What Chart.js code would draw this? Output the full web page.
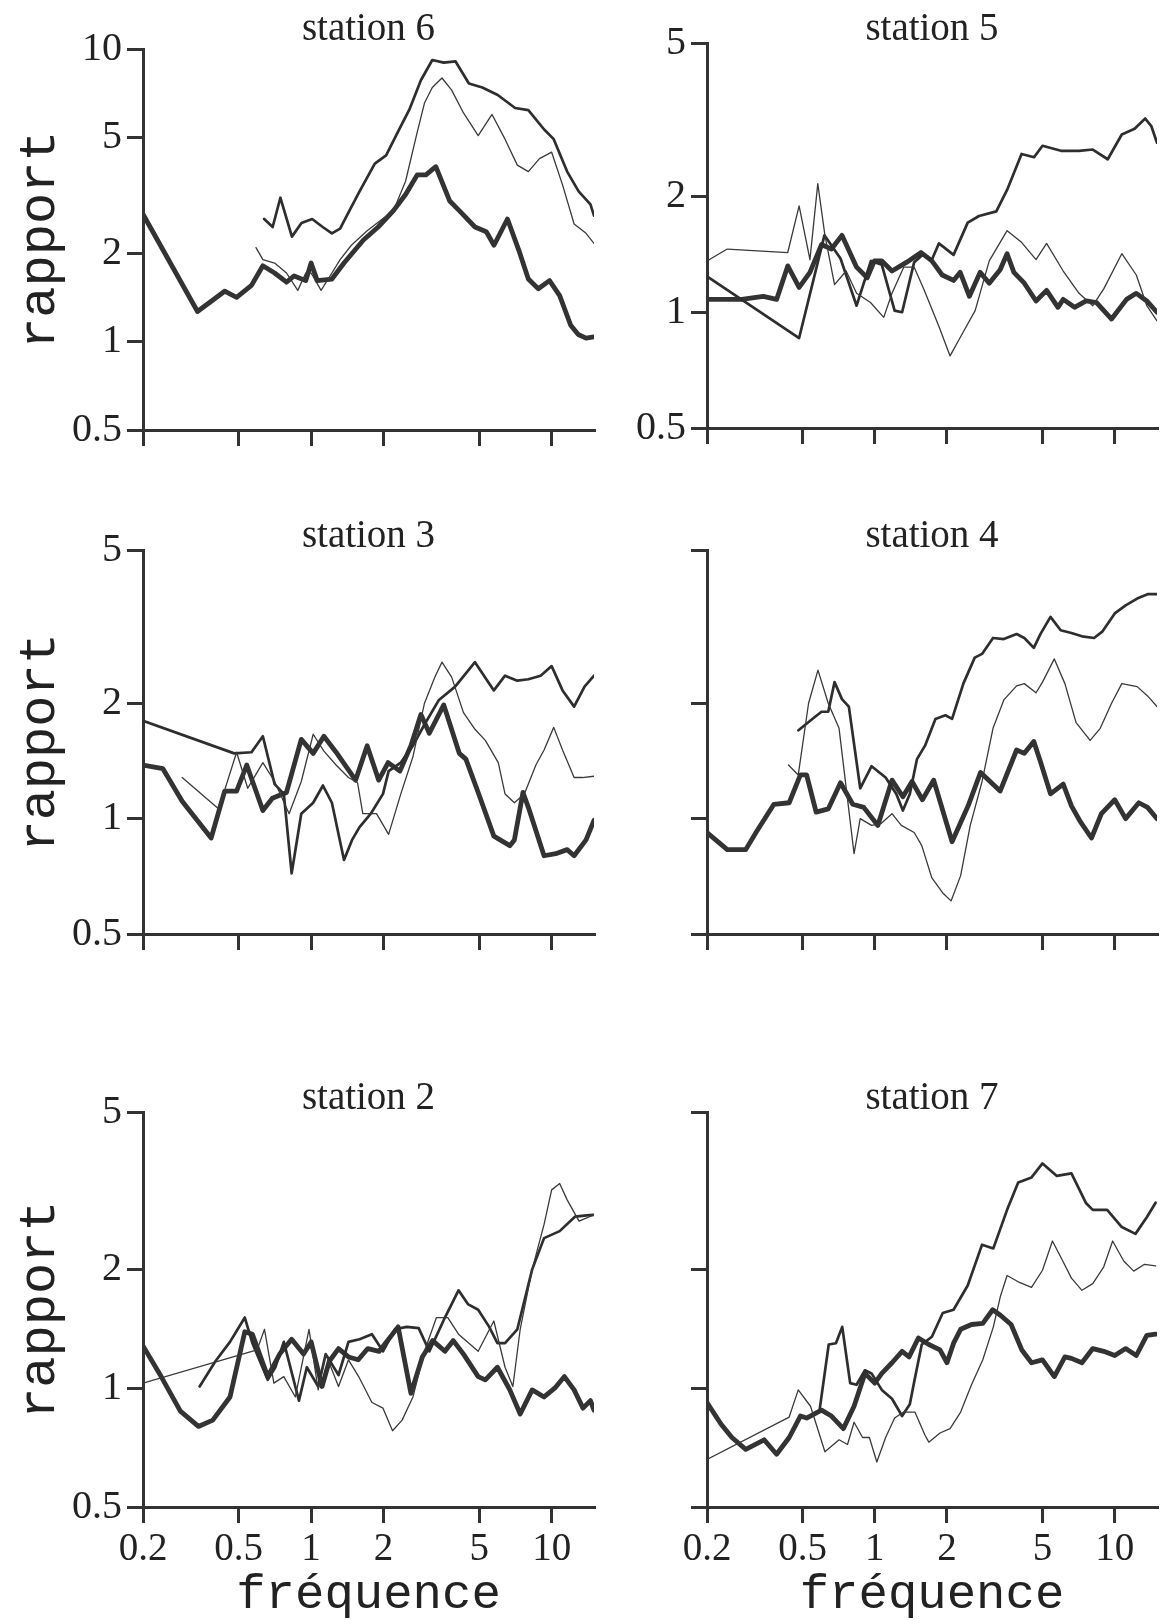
<!DOCTYPE html>
<html><head><meta charset="utf-8">
<script src="https://cdn.jsdelivr.net/npm/chart.js@4.4.0/dist/chart.umd.min.js"></script>
<style>
html,body{margin:0;padding:0;background:#fff;overflow:hidden;width:1160px;height:1620px;}
canvas{position:absolute;display:block;}
</style></head><body>
<canvas id="c1"></canvas><canvas id="c2"></canvas>
<canvas id="c3"></canvas><canvas id="c4"></canvas>
<canvas id="c5"></canvas><canvas id="c6"></canvas>
<script>
// ---------- data: [fréquence, rapport] ----------
const xTicks = [0.2, 0.5, 1, 2, 5, 10];
const yTicks6 = [0.5, 1, 2, 5, 10];
const yTicks = [0.5, 1, 2, 5];
const titles = ['station 6', 'station 5', 'station 3', 'station 4', 'station 2', 'station 7'];

const s6Thick = [[0.2,2.73],[0.337,1.27],[0.437,1.49],[0.49,1.42],[0.565,1.56],[0.63,1.82],[0.705,1.72],[0.79,1.60],[0.85,1.68],[0.95,1.62],[1.0,1.86],[1.06,1.62],[1.22,1.64],[1.37,1.86],[1.65,2.23],[1.9,2.47],[2.2,2.81],[2.47,3.19],[2.76,3.72],[3.0,3.72],[3.3,3.97],[3.77,3.03],[4.13,2.81],[4.8,2.47],[5.35,2.38],[5.76,2.14],[6.55,2.63],[7.3,2.06],[8.0,1.64],[8.8,1.52],[9.8,1.62],[10.8,1.44],[12,1.14],[12.9,1.06],[13.9,1.03],[15,1.04]];
const s6Med = [[0.638,2.63],[0.692,2.47],[0.745,3.11],[0.832,2.29],[0.912,2.55],[1.01,2.63],[1.117,2.47],[1.22,2.35],[1.32,2.44],[1.42,2.74],[1.59,3.27],[1.84,4.07],[2.05,4.34],[2.29,5.2],[2.56,6.22],[2.86,7.84],[3.19,9.19],[3.56,9.0],[3.98,9.1],[4.53,7.64],[5.15,7.4],[5.97,6.98],[7.05,6.3],[8.0,6.2],[9.29,5.33],[10.2,4.93],[11.6,3.82],[12.95,3.27],[14.5,2.95],[15,2.7]];
const s6Thin = [[0.59,2.1],[0.63,1.91],[0.705,1.86],[0.79,1.72],[0.88,1.5],[0.95,1.72],[1.0,1.72],[1.1,1.5],[1.22,1.72],[1.32,1.91],[1.47,2.14],[1.71,2.4],[1.99,2.64],[2.2,2.81],[2.47,3.54],[2.76,5.2],[2.96,6.55],[3.19,7.4],[3.5,7.98],[3.84,7.25],[4.3,6.06],[4.95,5.07],[5.65,5.99],[6.4,4.93],[7.2,4.02],[8.0,3.82],[8.9,4.23],[10,4.45],[11.1,3.44],[12.4,2.53],[13.9,2.35],[15,2.17]];

const s5Thick = [[0.2,1.08],[0.279,1.08],[0.343,1.1],[0.39,1.08],[0.434,1.32],[0.484,1.16],[0.537,1.27],[0.6,1.5],[0.66,1.46],[0.73,1.585],[0.84,1.31],[0.93,1.23],[0.997,1.36],[1.07,1.36],[1.18,1.28],[1.36,1.35],[1.56,1.43],[1.73,1.36],[1.91,1.25],[2.13,1.21],[2.27,1.27],[2.48,1.1],[2.75,1.27],[3.0,1.19],[3.33,1.29],[3.56,1.42],[3.8,1.27],[4.2,1.19],[4.7,1.07],[5.2,1.14],[5.8,1.03],[6.1,1.08],[6.8,1.03],[7.6,1.07],[8.4,1.06],[9.7,0.96],[11.2,1.08],[12.3,1.12],[13.6,1.07],[15,1.0]];
const s5Med = [[0.2,1.24],[0.484,0.857],[0.617,1.585],[0.72,1.38],[0.84,1.04],[0.964,1.36],[1.07,1.33],[1.21,1.01],[1.3,1.0],[1.46,1.35],[1.58,1.41],[1.73,1.37],[1.85,1.51],[2.13,1.41],[2.44,1.71],[2.72,1.78],[3.21,1.83],[3.56,2.08],[4.09,2.58],[4.61,2.53],[5.0,2.71],[5.97,2.63],[7.1,2.63],[8.1,2.65],[9.35,2.5],[10.7,2.9],[12.1,3.0],[13.4,3.19],[14.2,3.05],[15,2.76]];
const s5Thin = [[0.2,1.36],[0.243,1.46],[0.434,1.43],[0.484,1.89],[0.537,1.37],[0.579,2.16],[0.62,1.585],[0.68,1.18],[0.76,1.28],[0.84,1.12],[0.96,1.06],[1.09,0.97],[1.18,1.12],[1.32,1.31],[1.46,1.31],[1.6,1.15],[1.85,0.92],[2.06,0.77],[2.27,0.86],[2.62,1.01],[3.0,1.36],[3.56,1.63],[4.09,1.52],[4.7,1.37],[5.2,1.51],[6.1,1.28],[7.1,1.12],[8.1,1.04],[9.0,1.15],[10.7,1.42],[12.3,1.25],[13.6,1.04],[15,0.95]];

const s3Thick = [[0.2,1.38],[0.242,1.35],[0.291,1.11],[0.384,0.89],[0.437,1.18],[0.49,1.18],[0.54,1.38],[0.63,1.05],[0.69,1.13],[0.79,1.17],[0.91,1.61],[1.02,1.48],[1.13,1.64],[1.27,1.49],[1.53,1.26],[1.71,1.55],[1.91,1.26],[2.09,1.4],[2.34,1.33],[2.6,1.55],[2.86,1.87],[3.1,1.67],[3.56,1.98],[4.13,1.48],[4.4,1.43],[4.95,1.17],[5.75,0.9],[6.7,0.85],[7.0,0.88],[7.6,1.17],[8.0,1.07],[9.3,0.8],[10.4,0.81],[11.6,0.83],[12.4,0.8],[13.9,0.88],[15,0.99]];
const s3Med = [[0.2,1.8],[0.479,1.48],[0.565,1.49],[0.63,1.64],[0.705,1.23],[0.77,1.16],[0.83,0.72],[0.91,1.03],[1.02,1.1],[1.12,1.22],[1.22,1.1],[1.37,0.78],[1.48,0.88],[1.59,0.95],[1.77,1.03],[1.99,1.16],[2.1,1.33],[2.36,1.4],[2.65,1.55],[2.96,1.76],[3.4,2.04],[3.97,2.21],[4.8,2.56],[5.75,2.16],[6.4,2.36],[7.2,2.29],[8.0,2.31],[9.0,2.36],[10.0,2.5],[11.1,2.16],[12.4,1.96],[13.7,2.21],[15,2.36]];
const s3Thin = [[0.291,1.28],[0.413,1.06],[0.49,1.49],[0.545,1.2],[0.63,1.4],[0.705,1.25],[0.81,1.03],[0.91,1.25],[1.02,1.66],[1.13,1.5],[1.27,1.38],[1.43,1.28],[1.56,1.24],[1.64,1.03],[1.87,1.03],[2.1,0.91],[2.36,1.16],[2.65,1.45],[2.96,2.0],[3.27,2.34],[3.5,2.56],[3.84,2.34],[4.3,1.89],[4.8,1.71],[5.3,1.6],[6.0,1.4],[6.4,1.16],[7.0,1.1],[7.7,1.16],[8.6,1.38],[9.3,1.51],[10.2,1.73],[11.1,1.51],[12.4,1.28],[13.4,1.28],[15,1.29]];

const s4Thick = [[0.2,0.92],[0.243,0.83],[0.29,0.83],[0.32,0.92],[0.38,1.09],[0.44,1.1],[0.49,1.3],[0.52,1.3],[0.57,1.04],[0.64,1.06],[0.72,1.24],[0.81,1.09],[0.9,1.07],[1.03,0.96],[1.18,1.26],[1.31,1.14],[1.43,1.25],[1.58,1.12],[1.76,1.26],[2.1,0.87],[2.45,1.08],[2.76,1.32],[3.33,1.18],[3.9,1.51],[4.2,1.48],[4.6,1.59],[4.9,1.41],[5.4,1.16],[6.1,1.23],[6.6,1.08],[7.2,0.98],[8.0,0.89],[8.8,1.03],[10,1.12],[11.1,1.0],[12.6,1.1],[13.7,1.07],[15,1.0]];
const s4Med = [[0.481,1.7],[0.556,1.83],[0.6,1.9],[0.64,1.9],[0.68,2.27],[0.73,2.05],[0.78,1.96],[0.87,1.2],[0.97,1.37],[1.11,1.28],[1.23,1.16],[1.31,1.05],[1.4,1.16],[1.5,1.43],[1.62,1.55],[1.79,1.82],[1.97,1.86],[2.1,1.82],[2.34,2.25],[2.61,2.63],[2.8,2.69],[3.11,2.96],[3.45,2.94],[3.9,3.03],[4.2,2.96],[4.6,2.79],[4.9,3.03],[5.4,3.36],[5.95,3.1],[6.6,3.05],[7.3,2.99],[8.2,2.96],[8.9,3.08],[10,3.43],[11.1,3.6],[12.4,3.75],[13.7,3.85],[15,3.85]];
const s4Thin = [[0.437,1.38],[0.48,1.3],[0.53,2.0],[0.58,2.44],[0.64,2.0],[0.71,1.72],[0.82,0.81],[0.87,1.0],[0.97,0.96],[1.06,0.97],[1.18,1.03],[1.29,0.96],[1.46,0.92],[1.57,0.85],[1.73,0.7],[1.92,0.64],[2.08,0.61],[2.28,0.71],[2.5,0.96],[2.8,1.25],[3.11,1.72],[3.45,2.04],[3.9,2.22],[4.2,2.25],[4.7,2.13],[5.0,2.27],[5.6,2.61],[6.2,2.25],[6.9,1.78],[7.9,1.6],[8.7,1.72],[9.7,2.0],[10.7,2.25],[12.4,2.21],[13.7,2.09],[15,1.96]];

const s2Thick = [[0.2,1.28],[0.238,1.07],[0.286,0.875],[0.34,0.8],[0.39,0.83],[0.46,0.95],[0.53,1.39],[0.57,1.37],[0.66,1.07],[0.74,1.22],[0.83,1.33],[0.93,1.22],[1.0,1.31],[1.11,1.01],[1.19,1.17],[1.3,1.26],[1.43,1.2],[1.57,1.18],[1.72,1.26],[1.92,1.24],[2.3,1.43],[2.6,0.97],[2.9,1.2],[3.2,1.32],[3.6,1.24],[3.9,1.32],[4.3,1.22],[4.95,1.07],[5.3,1.05],[5.95,1.13],[6.7,0.99],[7.4,0.86],[8.3,0.99],[9.3,0.95],[10.3,1.0],[11.3,1.07],[12.4,0.99],[13.5,0.89],[14.5,0.93],[15,0.88]];
const s2Med = [[0.344,1.01],[0.4,1.17],[0.46,1.31],[0.53,1.51],[0.57,1.3],[0.66,1.05],[0.71,1.13],[0.77,1.31],[0.89,0.93],[0.96,1.13],[1.07,1.01],[1.15,1.22],[1.3,1.08],[1.43,1.31],[1.59,1.33],[1.79,1.37],[1.99,1.24],[2.23,1.41],[2.5,1.43],[2.8,1.42],[3.1,1.24],[3.6,1.51],[4.1,1.77],[4.5,1.63],[4.95,1.58],[5.5,1.43],[5.95,1.3],[6.4,1.3],[7.2,1.41],[8.3,2.0],[9.3,2.4],[10.8,2.5],[12.5,2.72],[14,2.74],[15,2.75]];
const s2Thin = [[0.2,1.03],[0.596,1.25],[0.64,1.41],[0.7,1.03],[0.77,1.07],[0.86,0.95],[0.98,1.41],[1.07,0.99],[1.15,1.22],[1.3,1.01],[1.43,1.18],[1.59,1.06],[1.79,0.92],[1.99,0.89],[2.18,0.78],[2.39,0.83],[2.65,0.95],[2.96,1.24],[3.32,1.51],[3.7,1.51],[4.1,1.37],[4.95,1.24],[5.75,1.48],[6.4,1.13],[6.9,1.01],[7.4,1.41],[8.3,2.0],[9.3,2.6],[10,3.18],[10.8,3.3],[11.6,3.0],[13,2.65],[15,2.75]];

const s7Thick = [[0.2,0.92],[0.229,0.81],[0.254,0.75],[0.29,0.7],[0.346,0.74],[0.39,0.68],[0.44,0.75],[0.49,0.85],[0.52,0.84],[0.6,0.88],[0.66,0.85],[0.74,0.79],[0.82,0.9],[0.91,1.09],[1.0,1.03],[1.07,1.09],[1.18,1.16],[1.3,1.24],[1.39,1.2],[1.52,1.34],[1.68,1.29],[1.87,1.25],[2.0,1.16],[2.13,1.3],[2.28,1.41],[2.53,1.45],[2.82,1.46],[3.1,1.58],[3.34,1.53],[3.7,1.45],[4.1,1.25],[4.5,1.16],[5.0,1.18],[5.6,1.07],[6.2,1.2],[6.6,1.19],[7.3,1.16],[8.1,1.26],[9.0,1.24],[10,1.21],[11.1,1.26],[12.3,1.21],[13.6,1.36],[14.8,1.37]];
const s7Med = [[0.589,0.88],[0.643,1.29],[0.689,1.3],[0.732,1.43],[0.79,1.03],[0.84,1.02],[0.91,1.11],[0.97,1.09],[1.07,0.99],[1.18,0.94],[1.3,0.85],[1.4,0.91],[1.47,1.06],[1.57,1.29],[1.73,1.35],[1.92,1.55],[2.13,1.58],[2.44,1.82],[2.8,2.31],[3.12,2.26],[3.56,2.83],[3.96,3.32],[4.5,3.42],[5.0,3.71],[5.74,3.45],[6.6,3.5],[7.6,2.94],[8.1,2.83],[9.3,2.83],[10.7,2.56],[12.2,2.46],[13.6,2.71],[14.8,2.95]];
const s7Thin = [[0.2,0.66],[0.44,0.845],[0.48,0.99],[0.54,0.9],[0.62,0.69],[0.71,0.74],[0.77,0.72],[0.82,0.82],[0.89,0.75],[0.95,0.75],[1.02,0.65],[1.11,0.75],[1.21,0.84],[1.32,0.87],[1.47,0.87],[1.62,0.76],[1.68,0.73],[1.87,0.77],[2.06,0.79],[2.28,0.87],[2.53,1.02],[2.82,1.18],[3.12,1.43],[3.34,1.71],[3.56,1.93],[3.96,1.86],[4.5,1.8],[5.0,1.99],[5.5,2.36],[6.0,2.13],[6.6,1.9],[7.3,1.77],[8.1,1.84],[9.0,2.03],[9.8,2.36],[10.9,2.1],[12.0,1.98],[13.3,2.06],[14.8,2.04]];

// ---------- layout / style ----------
const INK = '#333333';
const TXT = '#222222';
const panels = [
  {id:'c1', left:0,   top:0,    w:598, h:459, yw:143, xh:20,  padR:4, P:16, Q:6.0, title:titles[0], ymax:10, yT:yTicks6, yLab:true,  xLab:false, yTitle:true,  series:[s6Thin, s6Med, s6Thick]},
  {id:'c2', left:600, top:0,    w:560, h:457, yw:107, xh:20,  padR:3, P:16, Q:0.2, title:titles[1], ymax:5,  yT:yTicks,  yLab:true,  xLab:false, yTitle:false, series:[s5Thin, s5Med, s5Thick]},
  {id:'c3', left:0,   top:503,  w:598, h:460, yw:143, xh:20,  padR:4, P:20, Q:0.4, title:titles[2], ymax:5,  yT:yTicks,  yLab:true,  xLab:false, yTitle:true,  series:[s3Thin, s3Med, s3Thick]},
  {id:'c4', left:600, top:503,  w:560, h:460, yw:107, xh:20,  padR:3, P:20, Q:0.4, title:titles[3], ymax:5,  yT:yTicks,  yLab:false, xLab:false, yTitle:false, series:[s4Thin, s4Med, s4Thick]},
  {id:'c5', left:0,   top:1065, w:598, h:555, yw:143, xh:113, padR:4, P:20, Q:0.0, title:titles[4], ymax:5,  yT:yTicks,  yLab:true,  xLab:true,  yTitle:true,  series:[s2Thin, s2Med, s2Thick]},
  {id:'c6', left:600, top:1065, w:560, h:555, yw:107, xh:113, padR:3, P:20, Q:0.0, title:titles[5], ymax:5,  yT:yTicks,  yLab:false, xLab:true,  yTitle:false, series:[s7Thin, s7Med, s7Thick]}
];
const widths = [1.3, 2.7, 4.8];
const colors = ['#3a3a3a', '#2e2e2e', '#333333'];

panels.forEach(p => {
  const cv = document.getElementById(p.id);
  cv.width = p.w; cv.height = p.h;
  cv.style.left = p.left + 'px'; cv.style.top = p.top + 'px';
  cv.style.width = p.w + 'px'; cv.style.height = p.h + 'px';
  new Chart(cv.getContext('2d'), {
    type: 'line',
    data: {
      datasets: p.series.map((s, i) => ({
        data: s.map(([x, y]) => ({x, y})),
        borderColor: colors[i],
        borderWidth: widths[i],
        pointRadius: 0,
        tension: 0,
        fill: false,
        borderJoinStyle: 'round',
        borderCapStyle: 'round'
      }))
    },
    options: {
      responsive: false,
      animation: false,
      devicePixelRatio: 1,
      layout: {padding: {left: 0, right: p.padR, top: 0, bottom: 0}},
      plugins: {
        legend: {display: false},
        tooltip: {enabled: false},
        title: {
          display: true, text: p.title, fullSize: false, color: TXT,
          font: {family: 'Liberation Serif', size: 39, weight: 'normal', lineHeight: 0.7},
          padding: {top: p.P, bottom: p.Q}
        }
      },
      scales: {
        x: {
          type: 'logarithmic', min: 0.2, max: 15, position: 'bottom',
          afterBuildTicks: s => { s.ticks = xTicks.map(v => ({value: v})); },
          afterFit: s => { s.height = p.xh; },
          ticks: {
            autoSkip: false, maxRotation: 0, padding: 3, color: TXT,
            font: {family: 'Liberation Serif', size: 39},
            callback: v => p.xLab ? String(v) : ''
          },
          grid: {drawOnChartArea: false, drawTicks: true, tickLength: 16, lineWidth: 3, color: INK},
          border: {display: true, color: INK, width: 3},
          title: {
            display: p.xLab, text: 'fréquence', color: TXT,
            font: {family: 'Liberation Mono', size: 49, lineHeight: 1},
            padding: {top: 0, bottom: 0}
          }
        },
        y: {
          type: 'logarithmic', min: 0.5, max: p.ymax, position: 'left',
          afterBuildTicks: s => { s.ticks = p.yT.map(v => ({value: v})); },
          afterFit: s => { s.width = p.yw; },
          ticks: {
            autoSkip: false, padding: 5, color: TXT,
            font: {family: 'Liberation Serif', size: 40},
            callback: v => p.yLab ? String(v) : ''
          },
          grid: {drawOnChartArea: false, drawTicks: true, tickLength: 16, lineWidth: 3, color: INK},
          border: {display: true, color: INK, width: 3},
          title: {
            display: p.yTitle, text: 'rapport', color: TXT,
            font: {family: 'Liberation Mono', size: 52, lineHeight: 1},
            padding: {top: 14, bottom: 0}
          }
        }
      }
    }
  });
});
</script>
</body></html>
